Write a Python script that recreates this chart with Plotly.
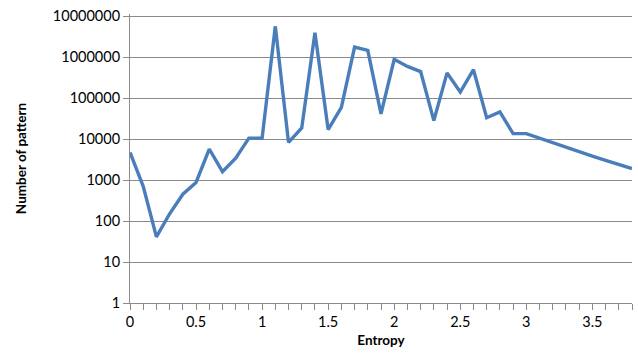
import plotly.graph_objects as go

entropy = [0.0, 0.1, 0.2, 0.3, 0.4, 0.5, 0.6, 0.7, 0.8, 0.9,
           1.0, 1.1, 1.2, 1.3, 1.4, 1.5, 1.6, 1.7, 1.8, 1.9,
           2.0, 2.1, 2.2, 2.3, 2.4, 2.5, 2.6, 2.7, 2.8, 2.9,
           3.0, 3.1, 3.2, 3.3, 3.4, 3.5, 3.6, 3.7, 3.8]
patterns = [4700, 700, 41, 150, 450, 870, 5700, 1600, 3400, 10500,
            10500, 5600000, 8300, 18600, 3900000, 17000, 59000, 1750000, 1450000, 41000,
            880000, 590000, 440000, 28000, 410000, 140000, 490000, 33000, 46000, 13500,
            13500, 10400, 7900, 6300, 4900, 3800, 3000, 2400, 1900]

y_tickvals = [1, 10, 100, 1000, 10000, 100000, 1000000, 10000000]
y_ticktext = ["1", "10", "100", "1000", "10000", "100000", "1000000", "10000000"]
x_tickvals = [0, 0.5, 1, 1.5, 2, 2.5, 3, 3.5]
x_ticktext = ["0", "0.5", "1", "1.5", "2", "2.5", "3", "3.5"]

FONT = "Lato"
GRID = "#8a8a8a"

fig = go.Figure()
fig.add_trace(go.Scatter(
    x=entropy, y=patterns, mode="lines",
    line=dict(color="#4A7EBB", width=3.4),
    showlegend=False,
))

fig.update_layout(
    width=638, height=356,
    margin=dict(l=130, r=6, t=14, b=53),
    paper_bgcolor="white", plot_bgcolor="white",
    font=dict(family=FONT, size=13, color="black"),
)

fig.update_xaxes(
    range=[0, 3.8], automargin=False,
    tickvals=x_tickvals, ticktext=x_ticktext,
    ticks="outside", ticklen=6, tickcolor=GRID, tickwidth=1,
    minor=dict(dtick=0.1, tick0=0, ticks="outside", ticklen=6, tickcolor=GRID, tickwidth=1, showgrid=False),
    showline=True, linecolor=GRID, linewidth=1,
    showgrid=False, zeroline=False,
    tickfont=dict(family=FONT, size=14.5),
    title=dict(text="<b>Entropy</b>", font=dict(family=FONT, size=13.5), standoff=6),
)

# top of range nudged up by 2px so the 10^7 gridline is drawn inside the plot area
fig.update_yaxes(
    type="log", range=[0, 7 * 289 / 287], automargin=False,
    tickvals=y_tickvals, ticktext=y_ticktext,
    ticks="outside", ticklen=6, tickcolor=GRID, tickwidth=1,
    showline=True, linecolor=GRID, linewidth=1,
    showgrid=True, gridcolor=GRID, gridwidth=1,
    zeroline=False,
    tickfont=dict(family=FONT, size=14.5),
    title=dict(text="<b>Number of pattern</b>", font=dict(family=FONT, size=13.5), standoff=23),
)

fig.write_html("out.html", config={"displayModeBar": False},
               post_script="document.body.style.margin='0';")
